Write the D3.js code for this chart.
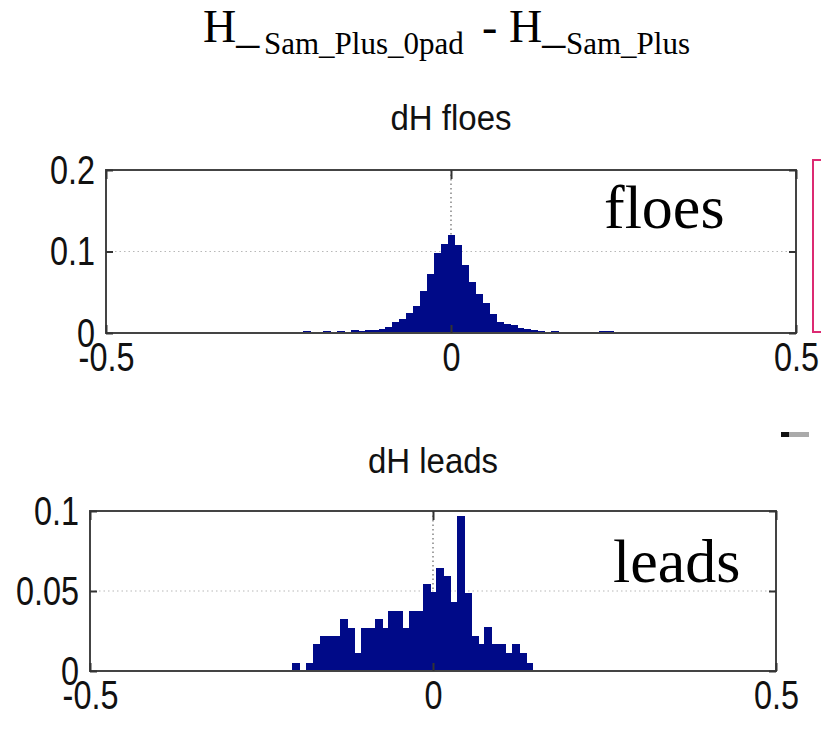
<!DOCTYPE html>
<html>
<head>
<meta charset="utf-8">
<script src="https://d3js.org/d3.v7.min.js"></script>
<style>
  body { margin: 0; background: #fff; }
  .tick text { font-family: "Liberation Sans", Arial, Helvetica, sans-serif; font-size: 36px; fill: #111; }
  .subtitle { font-family: "Liberation Sans", Arial, Helvetica, sans-serif; font-size: 33px; fill: #111; }
  .serif { font-family: "Liberation Serif", "Times New Roman", serif; fill: #000; }
</style>
</head>
<body>
<svg id="chart" width="821" height="731"></svg>
<script>
// histogram bin centres (bin width 0.01) and probabilities
const floeCenters = [-0.43, -0.42, -0.41, -0.39, -0.34, -0.33, -0.31, -0.29, -0.28, -0.24, -0.23, -0.22,
  -0.21, -0.20, -0.19, -0.18, -0.17, -0.16, -0.15, -0.14, -0.13, -0.12, -0.11, -0.10, -0.09, -0.08,
  -0.07, -0.06, -0.05, -0.04, -0.03, -0.02, -0.01, 0, 0.01, 0.02, 0.03, 0.04, 0.05, 0.06, 0.07, 0.08,
  0.09, 0.10, 0.11, 0.12, 0.13, 0.14, 0.15, 0.16, 0.17, 0.18, 0.19, 0.20, 0.21, 0.22, 0.23, 0.24, 0.25,
  0.27, 0.32, 0.34, 0.36, 0.45, 0.49];
const floeValues = [0.0012, 0.0012, 0.0012, 0.0012, 0.0012, 0.0012, 0.0012, 0.0012, 0.0012, 0.0012, 0.0014, 0.0012,
  0.002, 0.0014, 0.0014, 0.002, 0.0018, 0.002, 0.0014, 0.0033, 0.0025, 0.0035, 0.0038, 0.005, 0.0074, 0.014,
  0.017, 0.025, 0.033, 0.052, 0.072, 0.098, 0.109, 0.120, 0.108, 0.084, 0.063, 0.048, 0.037, 0.023, 0.0135, 0.011,
  0.0094, 0.006, 0.005, 0.004, 0.0025, 0.0016, 0.002, 0.0012, 0.0012, 0.0012, 0.0012, 0.0012, 0.0012, 0.002, 0.002, 0.0012, 0.0012,
  0.0012, 0.0012, 0.0012, 0.0012, 0.0012, 0.0012];

const leadCenters = [-0.20, -0.19, -0.18, -0.17, -0.16, -0.15, -0.14, -0.13, -0.12, -0.11, -0.10, -0.09,
  -0.08, -0.07, -0.06, -0.05, -0.04, -0.03, -0.02, -0.01, 0, 0.01, 0.02, 0.03, 0.04, 0.05, 0.06, 0.07,
  0.08, 0.09, 0.10, 0.11, 0.12, 0.13, 0.14];
const leadValues = [0.0052, 0, 0.0052, 0.0167, 0.0217, 0.0217, 0.0217, 0.0327, 0.0271, 0.0115, 0.0271, 0.0271,
  0.0323, 0.0271, 0.0375, 0.0375, 0.0271, 0.0375, 0.0375, 0.0546, 0.0494, 0.0644, 0.0592, 0.0431, 0.0967, 0.0488, 0.0217, 0.0167,
  0.0275, 0.0167, 0.0167, 0.0115, 0.0167, 0.0115, 0.0052];

const xDomain = [-0.5, 0.5];
const xTicks = [-0.5, 0, 0.5];
const floeYTicks = [0, 0.1, 0.2];
const leadYTicks = [0, 0.05, 0.1];
const binWidth = 0.01;

const svg = d3.select("#chart");
svg.append("rect").attr("width", 821).attr("height", 731).attr("fill", "#fff");

// the figure was stretched vertically when pasted on the slide: narrow, tall tick labels
const SX = 0.9, SY = 1.15;

function panel(o) {
  const x = d3.scaleLinear().domain(xDomain).range([o.left, o.right]);
  const y = d3.scaleLinear().domain([0, o.yTicks[o.yTicks.length - 1]]).range([o.bottom, o.top]);
  const g = svg.append("g");

  // dotted grid
  g.selectAll(".hgrid").data(o.yTicks.slice(1, -1)).enter().append("line")
    .attr("x1", o.left).attr("x2", o.right)
    .attr("y1", d => y(d)).attr("y2", d => y(d))
    .attr("stroke", "#b8b8b8").attr("stroke-width", 1.2).attr("stroke-dasharray", "1.5,3");
  g.append("line")
    .attr("x1", x(0)).attr("x2", x(0)).attr("y1", o.top).attr("y2", o.bottom)
    .attr("stroke", "#666").attr("stroke-width", 1.2).attr("stroke-dasharray", "1.5,3");

  // bars
  const data = o.centers.map((c, i) => ({ c: c, v: o.values[i] }));
  g.selectAll("rect.bar").data(data).enter().append("rect")
    .attr("class", "bar")
    .attr("x", d => x(d.c - binWidth / 2))
    .attr("width", d => x(d.c + binWidth / 2) - x(d.c - binWidth / 2) + 1)
    .attr("y", d => y(d.v))
    .attr("height", d => y(0) - y(d.v))
    .attr("shape-rendering", "crispEdges")
    .attr("fill", "#000a88");

  // box
  g.append("rect")
    .attr("x", o.left).attr("y", o.top)
    .attr("width", o.right - o.left).attr("height", o.bottom - o.top)
    .attr("fill", "none").attr("stroke", "#444").attr("stroke-width", 2);

  const bx = g.append("g").attr("transform", `translate(0,${o.bottom})`)
    .call(d3.axisBottom(x).tickValues(xTicks).tickFormat(d => String(d))
      .tickSizeInner(-8).tickSizeOuter(0).tickPadding(9));
  const tx = g.append("g").attr("transform", `translate(0,${o.top})`)
    .call(d3.axisTop(x).tickValues(xTicks).tickFormat("").tickSizeInner(-9).tickSizeOuter(0));
  const ly = g.append("g").attr("transform", `translate(${o.left},0)`)
    .call(d3.axisLeft(y).tickValues(o.yTicks).tickFormat(d => String(d))
      .tickSizeInner(-7).tickSizeOuter(0).tickPadding(11));
  const ry = g.append("g").attr("transform", `translate(${o.right},0)`)
    .call(d3.axisRight(y).tickValues(o.yTicks).tickFormat("").tickSizeInner(-7).tickSizeOuter(0));
  [bx, tx, ly, ry].forEach(a => {
    a.select(".domain").remove();
    a.selectAll(".tick line").attr("stroke", "#333").attr("stroke-width", 2);
  });

  bx.selectAll(".tick text").each(function () {
    const t = d3.select(this), ty = +t.attr("y");
    t.attr("y", 0).attr("transform", `translate(0,${ty}) scale(${SX},${SY})`);
  });
  ly.selectAll(".tick text").each(function () {
    const t = d3.select(this), txx = +t.attr("x");
    t.attr("x", 0).attr("transform", `translate(${txx},0) scale(${SX},${SY})`);
  });

  svg.append("text").attr("class", "subtitle")
    .attr("transform", `translate(${x(0)},${o.titleY}) scale(1,1.08)`)
    .attr("text-anchor", "middle").text(o.title);
  svg.append("text").attr("class", "serif")
    .attr("x", o.labelX).attr("y", o.labelY).attr("font-size", 62).text(o.label);
}

panel({ left: 106, right: 796, top: 170, bottom: 333, yTicks: floeYTicks,
  centers: floeCenters, values: floeValues, title: "dH floes", titleY: 130,
  label: "floes", labelX: 604, labelY: 228 });
panel({ left: 90, right: 776, top: 511, bottom: 671, yTicks: leadYTicks,
  centers: leadCenters, values: leadValues, title: "dH leads", titleY: 473,
  label: "leads", labelX: 613, labelY: 582 });

// title
const title = svg.append("text").attr("class", "serif").attr("y", 42);
title.append("tspan").attr("x", 203).attr("font-size", 46).text("H_");
title.append("tspan").attr("x", 264).attr("y", 54).attr("font-size", 31).text("Sam_Plus_0pad");
title.append("tspan").attr("x", 482).attr("y", 42).attr("font-size", 46).text("-");
title.append("tspan").attr("x", 509).attr("font-size", 46).text("H_");
title.append("tspan").attr("x", 566).attr("y", 54).attr("font-size", 31).text("Sam_Plus");

// slide fragments at the right edge
svg.append("rect").attr("x", 813).attr("y", 160).attr("width", 20).attr("height", 172)
  .attr("fill", "none").attr("stroke", "#dc2a72").attr("stroke-width", 2);
svg.append("rect").attr("x", 781).attr("y", 432).attr("width", 8).attr("height", 5).attr("fill", "#111");
svg.append("rect").attr("x", 789).attr("y", 432).attr("width", 20).attr("height", 5).attr("fill", "#aaa");
</script>
</body>
</html>
